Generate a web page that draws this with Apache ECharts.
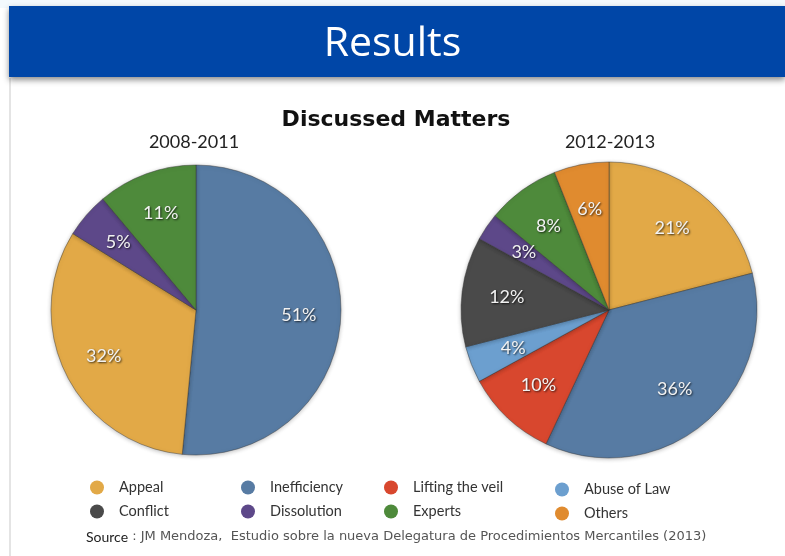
<!DOCTYPE html>
<html>
<head>
<meta charset="utf-8">
<script src="https://cdn.jsdelivr.net/npm/echarts@6/dist/echarts.min.js"></script>
<style>
html,body{margin:0;padding:0;background:#fff;}
#chart{width:785px;height:556px;}
</style>
</head>
<body>
<div id="chart"></div>
<script>
// ---- data ----
const categories = ['Appeal','Inefficiency','Lifting the veil','Abuse of Law','Conflict','Dissolution','Experts','Others'];
const period1 = '2008-2011';
const period2 = '2012-2013';
const names1 = ['Inefficiency','Appeal','Dissolution','Experts'];
const values1 = [51, 32, 5, 11];
const names2 = ['Appeal','Inefficiency','Lifting the veil','Abuse of Law','Conflict','Dissolution','Experts','Others'];
const values2 = [21, 36, 10, 4, 12, 3, 8, 6];
const legendColumns = [['Appeal','Conflict'],['Inefficiency','Dissolution'],['Lifting the veil','Experts'],['Abuse of Law','Others']];

// ---- styles ----
const palette = {
  'Appeal':'#E2A947',
  'Inefficiency':'#577BA3',
  'Lifting the veil':'#D8472E',
  'Abuse of Law':'#6C9FCF',
  'Conflict':'#4A4A4A',
  'Dissolution':'#5D4889',
  'Experts':'#4E8A3B',
  'Others':'#E08B2F'
};

function pieData(names, values){
  return names.map((n,i)=>({name:n, value:values[i], itemStyle:{color:palette[n]}}));
}
function labelData(names, values){
  return names.map((n,i)=>({name:n, value:values[i], itemStyle:{color:'rgba(0,0,0,0)'}}));
}
const labelStyle = {
  show:true, position:'inside', formatter:'{c}%',
  color:'#F2F2F2', fontFamily:'Lato', fontSize:18,
  textShadowColor:'rgba(0,0,0,0.75)', textShadowBlur:2, textShadowOffsetX:1, textShadowOffsetY:1
};
function visiblePie(center, r, names, values){
  return {
    type:'pie', center:center, radius:[0,r], startAngle:90, clockwise:true,
    label:{show:false}, labelLine:{show:false}, silent:true,
    itemStyle:{borderColor:'rgba(50,50,50,0.55)', borderWidth:0.8, shadowColor:'rgba(0,0,0,0.25)', shadowBlur:4, shadowOffsetY:1},
    data:pieData(names, values), z:2
  };
}
function labelPie(center, r0, r, names, values){
  return {
    type:'pie', center:center, radius:[r0,r], startAngle:90, clockwise:true,
    silent:true, label:labelStyle, labelLine:{show:false}, legendHoverLink:false,
    emphasis:{disabled:true},
    itemStyle:{color:'rgba(0,0,0,0)', borderWidth:0},
    data:labelData(names, values), z:3
  };
}

const legends = legendColumns.map((col, i)=>({
  orient:'vertical',
  left:[85, 236, 379, 550][i],
  top:[475, 475, 475, 477][i],
  itemWidth:14, itemHeight:14, itemGap:9,
  icon:'circle',
  selectedMode:false,
  textStyle:{fontFamily:'Lato', fontSize:14.5, color:'#333', padding:[0,0,0,10]},
  data:col.map(n=>({name:n, itemStyle:{color:palette[n], opacity:1, borderWidth:0, shadowBlur:0}}))
}));

const chart = echarts.init(document.getElementById('chart'), null, {renderer:'canvas'});
chart.setOption({
  backgroundColor:'#ffffff',
  animation:false,
  graphic:[
    {type:'rect', shape:{x:0,y:0,width:785,height:8}, style:{fill:'#f3f9fd'}, z:0},
    {type:'rect', shape:{x:9,y:6,width:776,height:71}, style:{fill:'#0046A7', shadowColor:'rgba(0,0,0,0.45)', shadowBlur:6, shadowOffsetY:3}, z:1},
    {type:'rect', shape:{x:9,y:78,width:2,height:478}, style:{fill:'#e4e4e4'}, z:0},
    {type:'text', left:86, top:530, z:5,
      style:{rich:{
        a:{fontFamily:'Lato', fontSize:14, fill:'#222'},
        b:{fontFamily:'DejaVu Sans', fontSize:13, fill:'#555'}
      }, text:'{a|Source}{b| : JM Mendoza,  Estudio sobre la nueva Delegatura de Procedimientos Mercantiles (2013)}'}}
  ],
  title:[
    {text:'Results', left:'center', top:24, textStyle:{color:'#ffffff', fontFamily:'Open Sans', fontWeight:'normal', fontSize:41}, z:5, padding:0},
    {text:'Discussed Matters', left:396, textAlign:'center', top:109, textStyle:{color:'#111', fontFamily:'DejaVu Sans', fontWeight:'bold', fontSize:22}, padding:0},
    {text:period1, left:194, textAlign:'center', top:133, textStyle:{color:'#222', fontFamily:'Lato', fontWeight:'normal', fontSize:18}, padding:0},
    {text:period2, left:610, textAlign:'center', top:133, textStyle:{color:'#222', fontFamily:'Lato', fontWeight:'normal', fontSize:18}, padding:0}
  ],
  legend:legends,
  series:[
    visiblePie([196,310], 145, names1, values1),
    visiblePie([609,310], 148, names2, values2),
    labelPie([196,310], 55, 145, names1, values1),
    labelPie([609,310], 52, 148, names2, values2)
  ]
});
</script>
</body>
</html>
